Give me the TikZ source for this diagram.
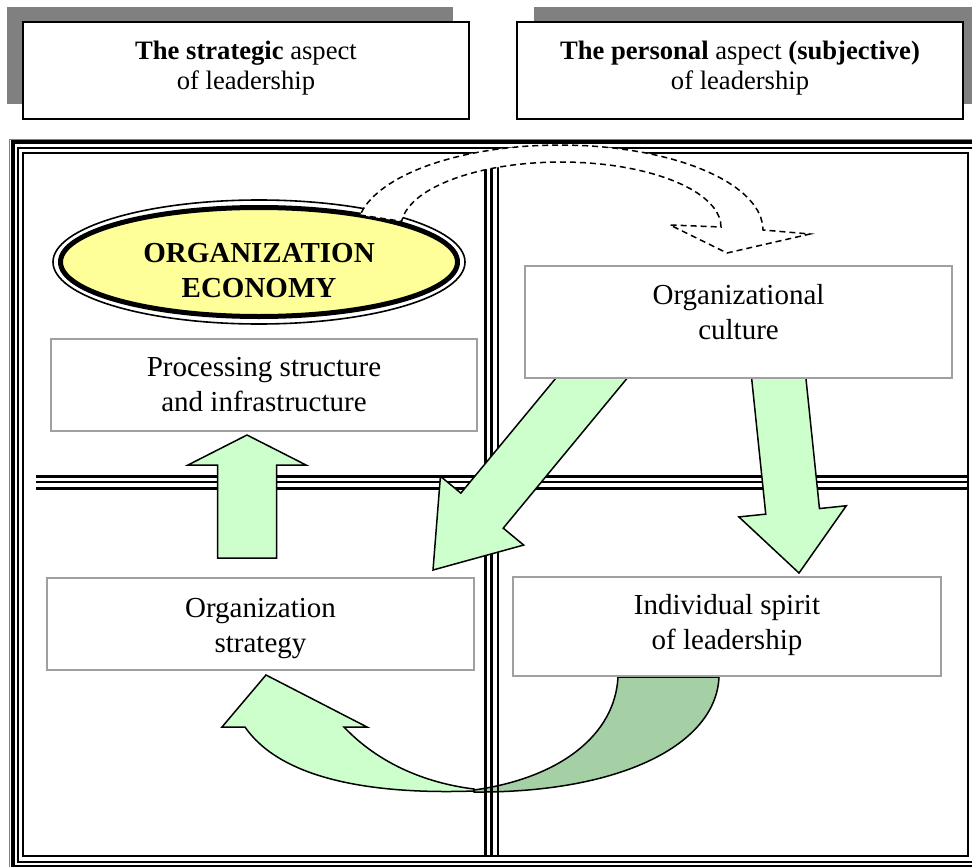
\documentclass[tikz,border=0pt]{standalone}
\usepackage{fontspec}
\setmainfont{Liberation Serif}
\usetikzlibrary{calc,shapes.geometric,shadows}

\definecolor{econyellow}{RGB}{255,255,153}
\definecolor{lightgreen}{RGB}{204,255,204}
\definecolor{darkgreen}{RGB}{165,207,165}
\definecolor{boxgray}{RGB}{160,160,160}
\definecolor{shadowgray}{RGB}{128,128,128}

\tikzset{
  headbox/.style={ draw, line width=0.8pt, fill=white, minimum width=223pt, minimum height=48.5pt,
    inner sep=0pt, align=center, font=\fontsize{13.3}{15}\selectfont }
}
\tikzset{
  textbox/.style={ draw=boxgray, line width=1pt, fill=white, inner sep=0pt, align=center,
    font=\fontsize{14.5}{17.5}\selectfont }
}
\tikzset{
  econ/.style={ ellipse, draw, line width=2.5pt, fill=econyellow, minimum width=198.5pt,
    minimum height=54.5pt, inner sep=0pt, align=center, font=\bfseries\fontsize{14.5}{17.5}\selectfont }
}
\tikzset{
  greenarrow/.style={ draw, line width=0.75pt, fill=lightgreen }
}
\tikzset{
  dasharrow/.style={ draw, dash pattern=on 3pt off 2pt, line width=0.75pt, fill=white }
}

% block arrow: tail, tip, half shaft, half head, head length
\newcommand\blockarrow[5]{%
  \coordinate (ba) at ($(#2)!#5!(#1)$);
  \filldraw[greenarrow] ($(#1)!#3!90:(#2)$) -- ($(ba)!#3!90:(#2)$) -- ($(ba)!#4!90:(#2)$) -- (#2)
    -- ($(ba)!#4!-90:(#2)$) -- ($(ba)!#3!-90:(#2)$) -- ($(#1)!#3!-90:(#2)$) -- cycle;
}

\begin{document}
\begin{tikzpicture}[x=0.5pt, y=-0.5pt]
  \useasboundingbox (0,0) rectangle (972,866);
  \clip (0,0) rectangle (972,866);

  % headers
  \node[headbox, drop shadow={shadow xshift=-8pt, shadow yshift=7.5pt, opacity=1, fill=shadowgray}]
    (strat) at (246,70.5) {\textbf{The strategic} aspect\\of leadership\rule[-5.5pt]{0pt}{5.5pt}};
  \node[headbox, drop shadow={shadow xshift=8.5pt, shadow yshift=7.5pt, opacity=1, fill=shadowgray}]
    (pers) at (740,70.5) {\textbf{The personal} aspect \textbf{(subjective)}\\of leadership\rule[-5.5pt]{0pt}{5.5pt}};

  % frame
  \draw[shadowgray, line width=0.5pt] (9.5,139.5) rectangle (990,880);
  \draw[line width=2pt] (12.5,142.5) rectangle (979,867);
  \draw[line width=1pt] (18,148) rectangle (973.5,861.5);
  \draw[line width=1pt] (23,153) rectangle (968,856);

  % bottom curved arrows
  \filldraw[greenarrow] (474,789) .. controls (425,783) and (378,763) .. (344,727) -- (367,727)
    -- (266,675) -- (222,727) -- (245,727) .. controls (285,785) and (390,794) .. (474,791) -- cycle;
  \filldraw[greenarrow, fill=darkgreen] (474,790) .. controls (560,778) and (615,735) .. (618,677)
    -- (719,677) .. controls (716,745) and (620,793) .. (474,792) -- cycle;

  % dividers
  \foreach \y/\w in {476/1.5pt, 482/1pt, 488/1.5pt}
    \draw[line width=\w] (36,\y) -- (968,\y);
  \foreach \x/\w in {485/1.5pt, 491.5/1.2pt, 497.5/1pt}
    \draw[line width=\w] (\x,153) -- (\x,856);

  % straight arrows
  \coordinate (upTail) at (247,558);
  \coordinate (upTip) at (247,435);
  \coordinate (diagTail) at (609,357);
  \coordinate (diagTip) at (433,570);
  \coordinate (downTail) at (775,342);
  \coordinate (downTip) at (799,573);
  \blockarrow{upTail}{upTip}{14.75pt}{29.5pt}{15pt}
  \blockarrow{diagTail}{diagTip}{13.75pt}{27pt}{38.5pt}
  \blockarrow{downTail}{downTip}{13.5pt}{27pt}{31pt}

  % boxes
  \node[textbox, minimum width=213pt, minimum height=46pt] (proc) at (264,385)
    {Processing structure\\and infrastructure};
  \node[textbox, minimum width=213.5pt, minimum height=56pt] (cult) at (738.5,322)
    {Organizational\\culture\rule[-10.5pt]{0pt}{10.5pt}};
  \node[textbox, minimum width=213.5pt, minimum height=46pt] (strategy) at (260.5,624)
    {\rule{0pt}{14pt}Organization\\strategy};
  \node[textbox, minimum width=214pt, minimum height=49.5pt] (spirit) at (727,626.5)
    {Individual spirit\\of leadership\rule[-5pt]{0pt}{5pt}};

  \node[econ] (econ) at (259,262) {\rule{0pt}{18pt}ORGANIZATION\\ECONOMY};
  \draw[line width=0.8pt] (econ.center) ellipse (206 and 62);

  % dashed arrow
  \draw[dasharrow] (360,215) -- plot[domain=175:0, samples=40] ({561+160*cos(\x)},{227-65*sin(\x)})
    -- (670,225) -- (727,253) -- (810,234)
    -- plot[domain=0:170, samples=40] ({560+203*cos(\x)},{230-85*sin(\x)}) -- cycle;
\end{tikzpicture}
\end{document}
